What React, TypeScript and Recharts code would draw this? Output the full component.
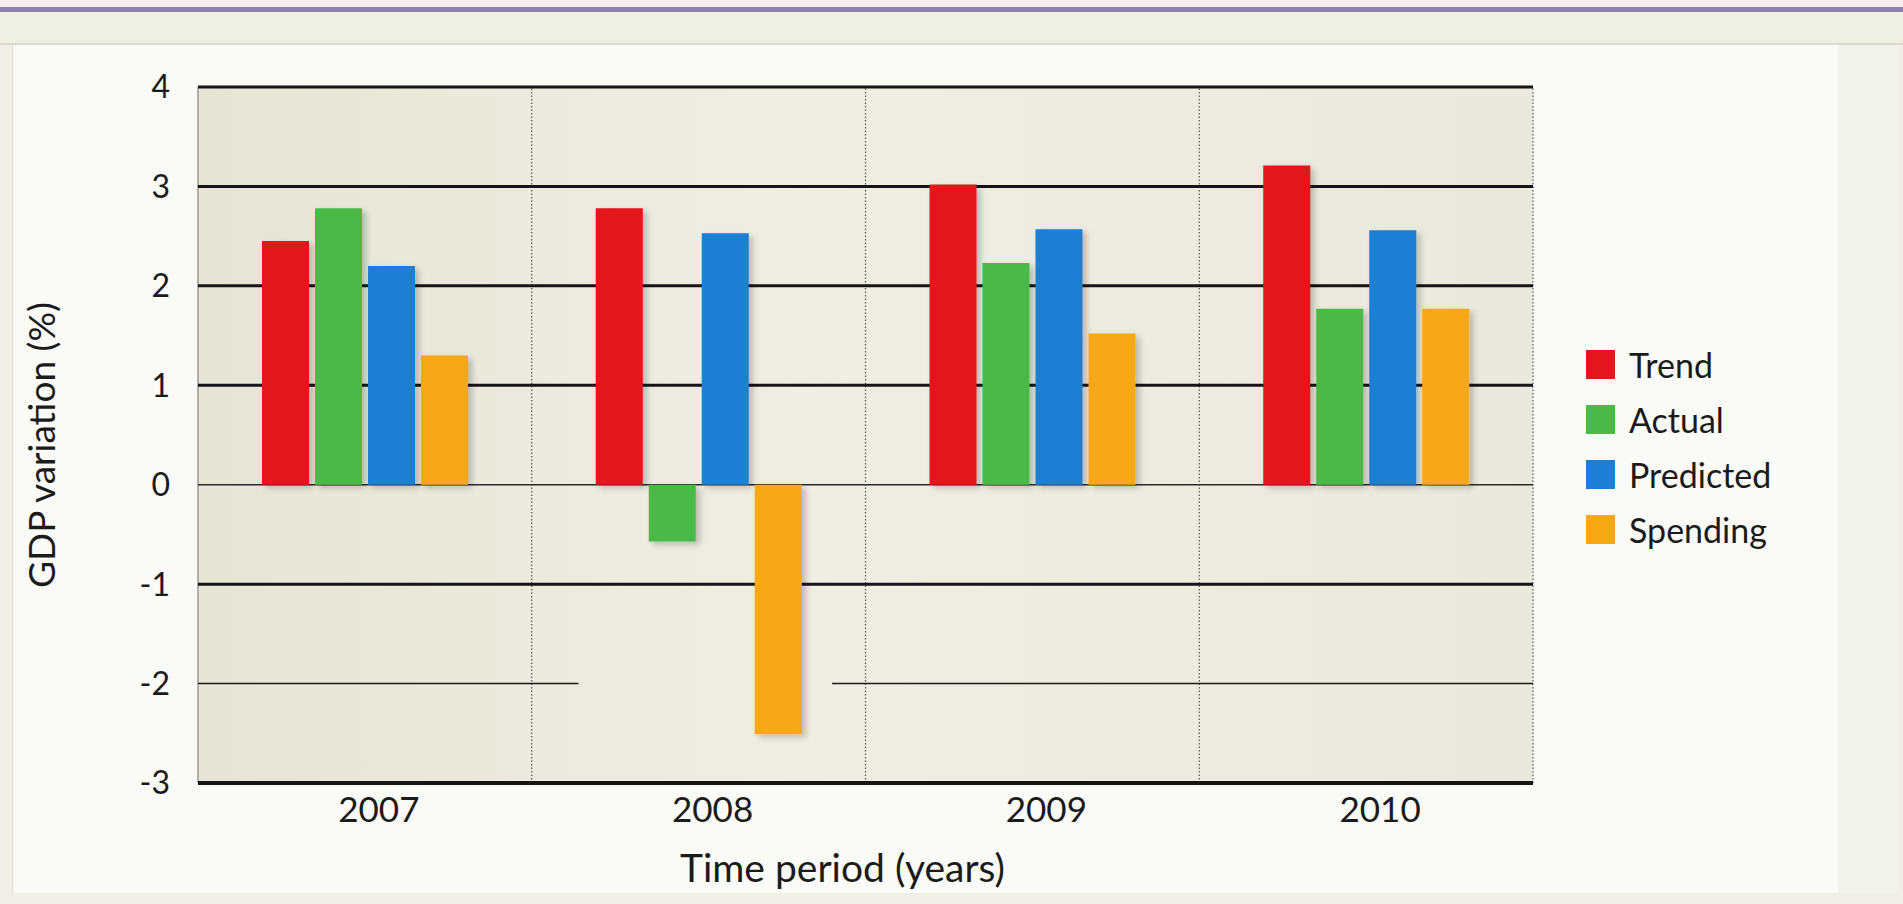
import React from 'react';
import { BarChart, Bar, XAxis, YAxis, ReferenceLine, Legend, CartesianGrid, Label } from 'recharts';

const years = ['2007', '2008', '2009', '2010'];
const trend = [2.45, 2.78, 3.02, 3.21];
const actual = [2.78, -0.57, 2.23, 1.77];
const predicted = [2.2, 2.53, 2.57, 2.56];
const spending = [1.3, -2.51, 1.52, 1.77];
const yTicks = [-3, -2, -1, 0, 1, 2, 3, 4];
const seriesNames = ['Trend', 'Actual', 'Predicted', 'Spending'];
const seriesColors = ['#e3161d', '#4bb947', '#1c7fd3', '#f7a815'];
const seriesValues = [trend, actual, predicted, spending];

const data = years.map((y, i) => {
  const row: any = { year: y, gx: i + 0.5 };
  seriesNames.forEach((n, k) => { row[n] = seriesValues[k][i]; });
  return row;
});

const FONT = 'Lato, "Open Sans", sans-serif';
const INK = '#1b1b1b';

const XTick = (props: any) => {
  const { x, y, payload } = props;
  return (
    <text x={x + 14} y={y + 25} textAnchor="middle" dominantBaseline="central"
      fontFamily={FONT} fontSize={35} fill={INK}>{payload.value}</text>
  );
};

const renderLegend = () => (
  <div style={{ fontFamily: FONT, fontSize: 34, color: INK }}>
    {seriesNames.map((n, k) => (
      <div key={n} style={{ display: 'flex', alignItems: 'center', height: 55 }}>
        <span style={{ display: 'inline-block', width: 29, height: 29, background: seriesColors[k], marginRight: 14 }} />
        <span>{n}</span>
      </div>
    ))}
  </div>
);

export default function App() {
  return (
    <div style={{ position: 'absolute', left: 0, top: 0, width: 1903, height: 904, background: '#efeee7', overflow: 'hidden' }}>
      <div style={{ position: 'absolute', left: 0, top: 0, width: 1903, height: 7, background: '#f5eff4' }} />
      <div style={{ position: 'absolute', left: 0, top: 7, width: 1903, height: 5, background: '#8a81ae' }} />
      <div style={{ position: 'absolute', left: 0, top: 12, width: 1903, height: 32, background: '#eef0e3' }} />
      <div style={{ position: 'absolute', left: 0, top: 43, width: 1903, height: 2, background: '#d9d9cf' }} />
      <div style={{ position: 'absolute', left: 12, top: 45, width: 1826, height: 848, background: '#fafaf6', borderLeft: '1px solid #dcdcd2' }} />
      <div style={{ position: 'absolute', left: 1838, top: 45, width: 60, height: 848, background: '#f3f3ee' }} />
      <div style={{ position: 'absolute', left: 0, top: 0 }}>
        <BarChart width={1903} height={904} data={data}
          margin={{ top: 87, right: 370, left: 0, bottom: 0 }}
          barSize={47} barGap={6}>
          <defs>
            <linearGradient id="plotBg" x1="0" y1="0" x2="1" y2="0">
              <stop offset="0%" stopColor="#e6e5d6" />
              <stop offset="45%" stopColor="#efeee4" />
              <stop offset="100%" stopColor="#eae9dd" />
            </linearGradient>
            <filter id="barShadow" x="-20%" y="-10%" width="160%" height="130%">
              <feDropShadow dx="4" dy="3" stdDeviation="3" floodColor="#000" floodOpacity="0.22" />
            </filter>
          </defs>
          <CartesianGrid horizontal={false} vertical={false} fill="url(#plotBg)" />
          <XAxis dataKey="year" height={121} tickSize={0} tickMargin={0} tickLine={false}
            axisLine={{ stroke: '#151515', strokeWidth: 4 }} tick={<XTick />} interval={0}>
            <Label content={(p: any) => {
              const vb = p.viewBox;
              return (
                <text x={vb.x + vb.width / 2 - 23} y={867} textAnchor="middle" dominantBaseline="central"
                  fontFamily={FONT} fontSize={39} fill={INK}>Time period (years)</text>
              );
            }} />
          </XAxis>
          <XAxis xAxisId="g" dataKey="gx" type="number" domain={[0, years.length]} allowDataOverflow hide />
          <YAxis domain={[-3, 4]} ticks={yTicks} interval={0} width={198} tickSize={0} tickMargin={28}
            tickLine={false} axisLine={false}
            tick={{ fill: INK, fontSize: 32, fontFamily: FONT }}>
            <Label content={(p: any) => {
              const vb = p.viewBox;
              const cx = vb.x + 40;
              const cy = vb.y + vb.height / 2 - 10 + 20;
              return (
                <text x={cx} y={cy} transform={`rotate(-90, ${cx}, ${cy})`} textAnchor="middle"
                  dominantBaseline="central" fontFamily={FONT} fontSize={37} fill={INK}>GDP variation (%)</text>
              );
            }} />
          </YAxis>
          <ReferenceLine xAxisId="g" x={0} stroke="#9a9a90" strokeWidth={1.5} zIndex={-10} />
          {[1, 2, 3, 4].map(v => (
            <ReferenceLine key={'v' + v} xAxisId="g" x={v} stroke="#555" strokeWidth={1.2} strokeDasharray="1.5 2" zIndex={-10} />
          ))}
          {[4, 3, 2, 1, -1].map(v => (
            <ReferenceLine key={'h' + v} xAxisId="g" y={v} stroke="#151515" strokeWidth={3} zIndex={-10} />
          ))}
          <ReferenceLine xAxisId="g" y={0} stroke="#2a2a2a" strokeWidth={1.6} zIndex={-10} />
          <ReferenceLine xAxisId="g" segment={[{ x: 0, y: -2 }, { x: 1.14, y: -2 }]} stroke="#1a1a1a" strokeWidth={1.6} zIndex={-10} />
          <ReferenceLine xAxisId="g" segment={[{ x: 1.9, y: -2 }, { x: 4, y: -2 }]} stroke="#1a1a1a" strokeWidth={1.6} zIndex={-10} />
          {seriesNames.map((n, k) => (
            <Bar key={n} dataKey={n} fill={seriesColors[k]} isAnimationActive={false} filter="url(#barShadow)" />
          ))}
          <Legend layout="horizontal" verticalAlign="middle" align="center" content={renderLegend}
            wrapperStyle={{ position: 'absolute', left: 1586, top: 337, width: 280 }} />
        </BarChart>
      </div>
    </div>
  );
}
